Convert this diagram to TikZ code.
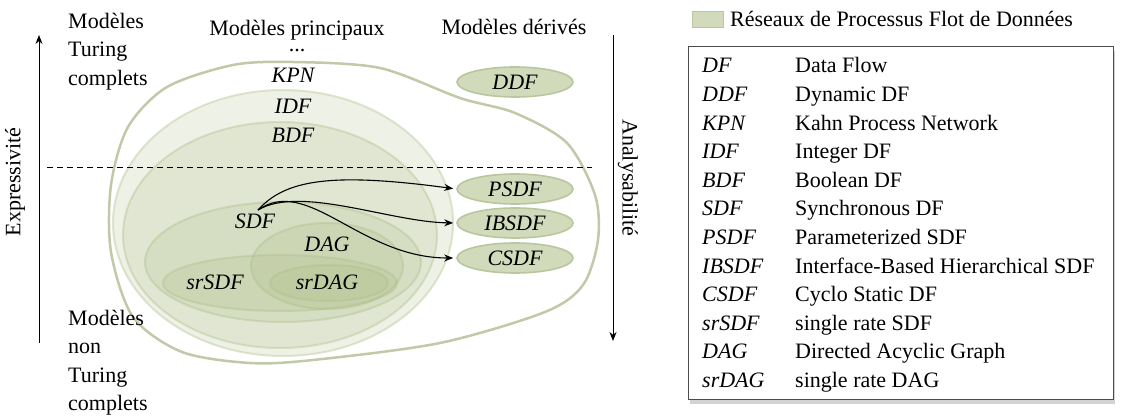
\documentclass[tikz,border=0pt]{standalone}
\usepackage{fontspec}
\setmainfont{Liberation Serif}
\usetikzlibrary{arrows.meta, positioning, shapes.geometric, shadows}

\definecolor{dfgreen}{RGB}{170,188,130}
\definecolor{eggline}{RGB}{194,201,168}
\definecolor{derfill}{RGB}{209,218,186}
\definecolor{derline}{RGB}{186,198,158}

\begin{document}
\begin{tikzpicture}[x=1pt, y=-1pt,
  every node/.style={font=\fontsize{22}{28.5}\selectfont, inner sep=0pt},
  layer/.style={fill=dfgreen, fill opacity=0.2, draw=dfgreen, draw opacity=0.35, line width=2pt},
  derived/.style={ellipse, draw=derline, fill=derfill, line width=1.6pt,
                  minimum width=116pt, minimum height=30pt,
                  font=\fontsize{22}{28.5}\selectfont\itshape},
  model/.style={font=\fontsize{22}{28.5}\selectfont\itshape},
  title/.style={align=left, anchor=north west},
  arr/.style={-{Stealth[length=9pt, width=7pt]}, line width=1.1pt, shorten >=3pt},
  axisarr/.style={-{Stealth[length=9pt, width=7pt]}, line width=1pt},
  legbox/.style={draw=black!70, line width=1pt, fill=white,
                 drop shadow={shadow xshift=2pt, shadow yshift=-4pt, opacity=0.35}}
]
\useasboundingbox (0,0) rectangle (1122,419);

% DF envelope
\draw[eggline, line width=2.5pt, fill=white] plot[smooth cycle, tension=0.5]
  coordinates {(293,62) (380,68) (460,98) (515,113) (567,143) (595,195) (598,240)
               (583,285) (545,312) (440,343) (313,360) (250,363) (182,352) (133,317)
               (111,252) (111,185) (128,127) (167,87) (233,65)};

% nested models
\path[layer] (283,223) ellipse [x radius=170pt, y radius=133pt];
\path[layer] (280,235) ellipse [x radius=157pt, y radius=113pt];
\path[layer] (283,262) ellipse [x radius=138pt, y radius=60pt];
\path[layer] (327,266) ellipse [x radius=76pt, y radius=43pt];
\path[layer] (280,283) ellipse [x radius=117pt, y radius=28pt];
\path[layer] (329,283) ellipse [x radius=59pt, y radius=18pt];

\node[model, anchor=base] (kpn) at (293,83) {KPN};
\node[model, anchor=base] (idf) at (293,114) {IDF};
\node[model, anchor=base] (bdf) at (293,143) {BDF};
\node[model, anchor=base] (sdf) at (255,229) {SDF};
\node[model, anchor=base] (dag) at (327,252) {DAG};
\node[model, anchor=base] (srsdf) at (215,290) {srSDF};
\node[model, anchor=base] (srdag) at (327,290) {srDAG};

% derived models
\node[derived] (ddf) at (515,82) {DDF};
\node[derived] (psdf) at (515,189) {PSDF};
\node[derived] (ibsdf) at (515,223) {IBSDF};
\node[derived] (csdf) at (515,258) {CSDF};

\coordinate (sdfout) at (258,210);
\draw[arr] (sdfout) .. controls (285,180) and (330,172) .. (psdf.west);
\draw[arr] (sdfout) .. controls (300,185) and (390,222) .. (ibsdf.west);
\draw[arr] (sdfout) .. controls (308,175) and (360,258) .. (csdf.west);

% headings and axes
\node[title] (turing) at (68,13) {Modèles\\Turing\\complets};
\node[title] (nonturing) at (68,310) {Modèles\\non\\Turing\\complets};
\node[align=center, anchor=north] (principal) at (297,20) {Modèles principaux\\[-12pt]...};
\node[anchor=base] (derive) at (514,35) {Modèles dérivés};

\draw[dash pattern=on 6pt off 4pt, line width=0.9pt] (47,167) -- (592,167);

\draw[axisarr] (39,343) -- (39,35);
\node[rotate=90] (expr) at (15,182) {Expressivité};
\draw[axisarr] (613,35) -- (613,341);
\node[rotate=-90] (analys) at (628,178) {Analysabilité};

% legend
\node[draw=derline, fill=derfill, line width=1pt, minimum width=31pt, minimum height=16pt]
  (swatch) at (707.5,20) {};
\node[anchor=base west] (legtitle) at (730,27) {Réseaux de Processus Flot de Données};
\node[legbox, minimum width=425pt, minimum height=353pt] (legend) at (900.5,223.5) {};
\foreach [count=\i] \abbr/\desc in {DF/Data Flow, DDF/Dynamic DF,
    KPN/Kahn Process Network, IDF/Integer DF, BDF/Boolean DF,
    SDF/Synchronous DF, PSDF/Parameterized SDF,
    IBSDF/Interface-Based Hierarchical SDF, CSDF/Cyclo Static DF,
    srSDF/single rate SDF, DAG/Directed Acyclic Graph, srDAG/single rate DAG} {
  \node[model, anchor=base west] (ab\i) at (702,44.4+28.6*\i) {\abbr};
  \node[anchor=base west] (ds\i) at (795,44.4+28.6*\i) {\desc};
}
\end{tikzpicture}
\end{document}
